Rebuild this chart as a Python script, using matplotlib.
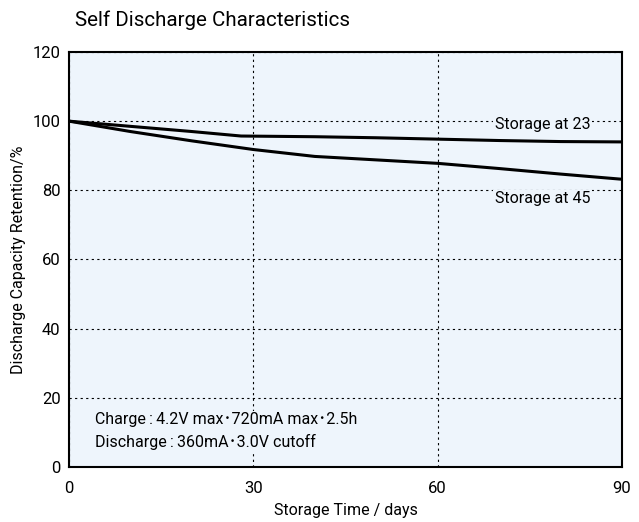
import matplotlib.pyplot as plt

plt.rcParams['font.family'] = ['Roboto', 'Noto Sans CJK JP', 'DejaVu Sans']

days_23 = [0, 10, 20, 28, 40, 50, 60, 70, 80, 90]
ret_23 = [100, 98.5, 97.0, 95.7, 95.5, 95.2, 94.8, 94.4, 94.1, 94.0]
days_45 = [0, 10, 20, 30, 40, 50, 60, 70, 80, 90]
ret_45 = [100, 97.0, 94.3, 91.8, 89.8, 88.8, 87.8, 86.3, 84.7, 83.2]

x_ticks = [0, 30, 60, 90]
y_ticks = [0, 20, 40, 60, 80, 100, 120]

bg = '#eef5fc'

fig = plt.figure(figsize=(6.39, 5.22), dpi=100)
ax = fig.add_axes([0.108, 0.1054, 0.8654, 0.795])
ax.set_facecolor(bg)

ax.plot(days_23, ret_23, color='black', lw=2.2, zorder=3)
ax.plot(days_45, ret_45, color='black', lw=2.2, zorder=3)

ax.set_xlim(0, 90)
ax.set_ylim(0, 120)
ax.set_xticks(x_ticks)
ax.set_yticks(y_ticks)
ax.tick_params(length=0, labelsize=12)
ax.tick_params(axis='x', pad=10)
ax.tick_params(axis='y', pad=6)
ax.grid(True, color='black', ls=(0, (2, 3)), lw=0.8)
for s in ax.spines.values():
    s.set_linewidth(1.5)

box = dict(facecolor=bg, edgecolor='none', pad=1)
fs = 11.5
ax.text(69.3, 99.1, 'Storage at 23', fontsize=fs, va='center', bbox=box, zorder=4)
ax.text(69.3, 77.5, 'Storage at 45', fontsize=fs, va='center', bbox=box, zorder=4)
ax.text(4.2, 13.6, 'Charge\u2009:\u20094.2V max･720mA max･2.5h', fontsize=fs, va='center', bbox=box, zorder=4)
ax.text(4.2, 7.3, 'Discharge\u2009:\u2009360mA･3.0V cutoff', fontsize=fs, va='center', bbox=box, zorder=4)

ax.set_xlabel('Storage Time / days', fontsize=fs, labelpad=5)
ax.set_ylabel('Discharge Capacity Retention/%', fontsize=fs, labelpad=5)
fig.text(0.117, 0.962, 'Self Discharge Characteristics', fontsize=14.8, va='center', ha='left')

fig.savefig('out.png', dpi=100)
